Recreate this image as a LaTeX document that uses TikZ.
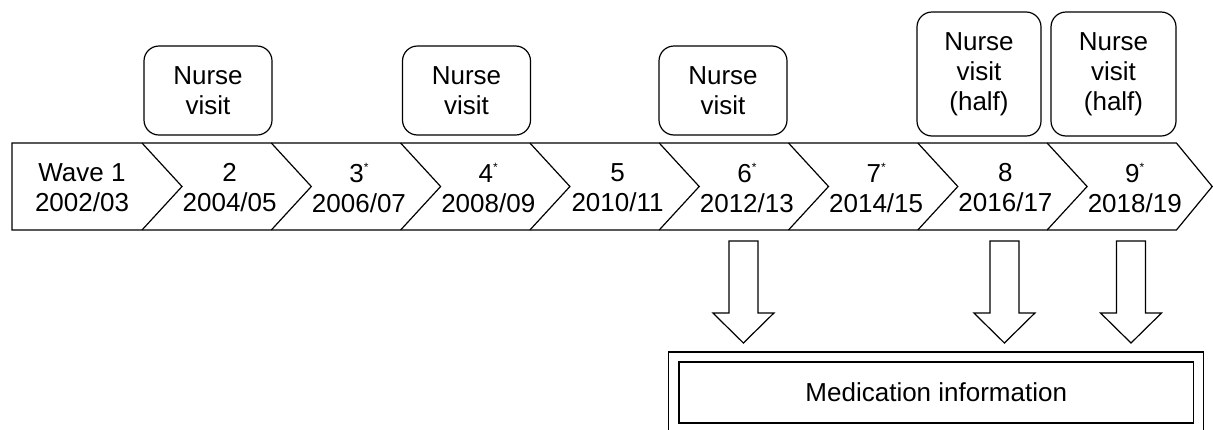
\documentclass[tikz,border=0pt]{standalone}
\usepackage{fontspec}
\setmainfont{Liberation Sans}
% small raised asterisk after a wave number
\newcommand\wavemark{\raisebox{5.5pt}{\fontsize{6}{6}\selectfont *}}
\begin{document}
\begin{tikzpicture}[x=0.5pt, y=-0.5pt, line width=0.6pt,
  txt/.style={font=\fontsize{13}{15}\selectfont, align=center, inner sep=0pt},
  wavelabel/.style={txt},
  visitbox/.style={txt, draw, rounded corners=7.5pt, minimum width=64pt, minimum height=44.5pt},
  halfbox/.style={visitbox, minimum width=62pt, minimum height=62pt},
  medframe/.style={draw, minimum width=267.5pt, minimum height=44pt, inner sep=0pt},
  medbox/.style={txt, draw, line width=0.8pt, minimum width=257.25pt, minimum height=30.5pt},
  blockarrow/.pic={\draw[fill=white] (-14.5,0) -- (-14.5,72) -- (-30.5,72) -- (0,102)
                     -- (30.5,72) -- (14.5,72) -- (14.5,0) -- cycle;}
]
\useasboundingbox (0,0) rectangle (1213,429);
\clip (0,0) rectangle (1213,429);

% timeline strip of chevrons
\def\nstep{129.3}
\draw (12,143) -- (1176.4,143) -- (1212.2,186.5) -- (1176.4,230) -- (12,230) -- cycle;
\foreach \k in {0,...,7} {
  \pgfmathsetmacro\nx{142+\k*\nstep}
  \draw (\nx,143) -- (\nx+40,186.5) -- (\nx,230);
}

% wave labels
\node[wavelabel] (w1) at (82,188)      {Wave 1\\2002/03};
\node[wavelabel] (w2) at (229.65,188)  {2\\2004/05};
\node[wavelabel] (w3) at (358.95,188)  {3\wavemark\\2006/07};
\node[wavelabel] (w4) at (488.25,188)  {4\wavemark\\2008/09};
\node[wavelabel] (w5) at (617.55,188)  {5\\2010/11};
\node[wavelabel] (w6) at (746.85,188)  {6\wavemark\\2012/13};
\node[wavelabel] (w7) at (876.15,188)  {7\wavemark\\2014/15};
\node[wavelabel] (w8) at (1005.45,188) {8\\2016/17};
\node[wavelabel] (w9) at (1134.75,188) {9\wavemark\\2018/19};

% nurse visits above the waves
\node[visitbox] (v2) at (208,90.5)   {Nurse\\visit};
\node[visitbox] (v4) at (466.5,90.5) {Nurse\\visit};
\node[visitbox] (v6) at (723,90.5)   {Nurse\\visit};
\node[halfbox]  (v8) at (979,74)     {Nurse\\visit\\(half)};
\node[halfbox, minimum width=62.5pt] (v9) at (1113.5,74) {Nurse\\visit\\(half)};

% medication information
\node[medframe] (frame) at (936,396) {};
\node[medbox] (med) at (936.25,392.5) {Medication information};

% block arrows from the waves down to the medication box
\pic (a6) at (743.4,241) {blockarrow};
\pic (a8) at (1004.4,241) {blockarrow};
\pic (a9) at (1131,241) {blockarrow};
\end{tikzpicture}
\end{document}
